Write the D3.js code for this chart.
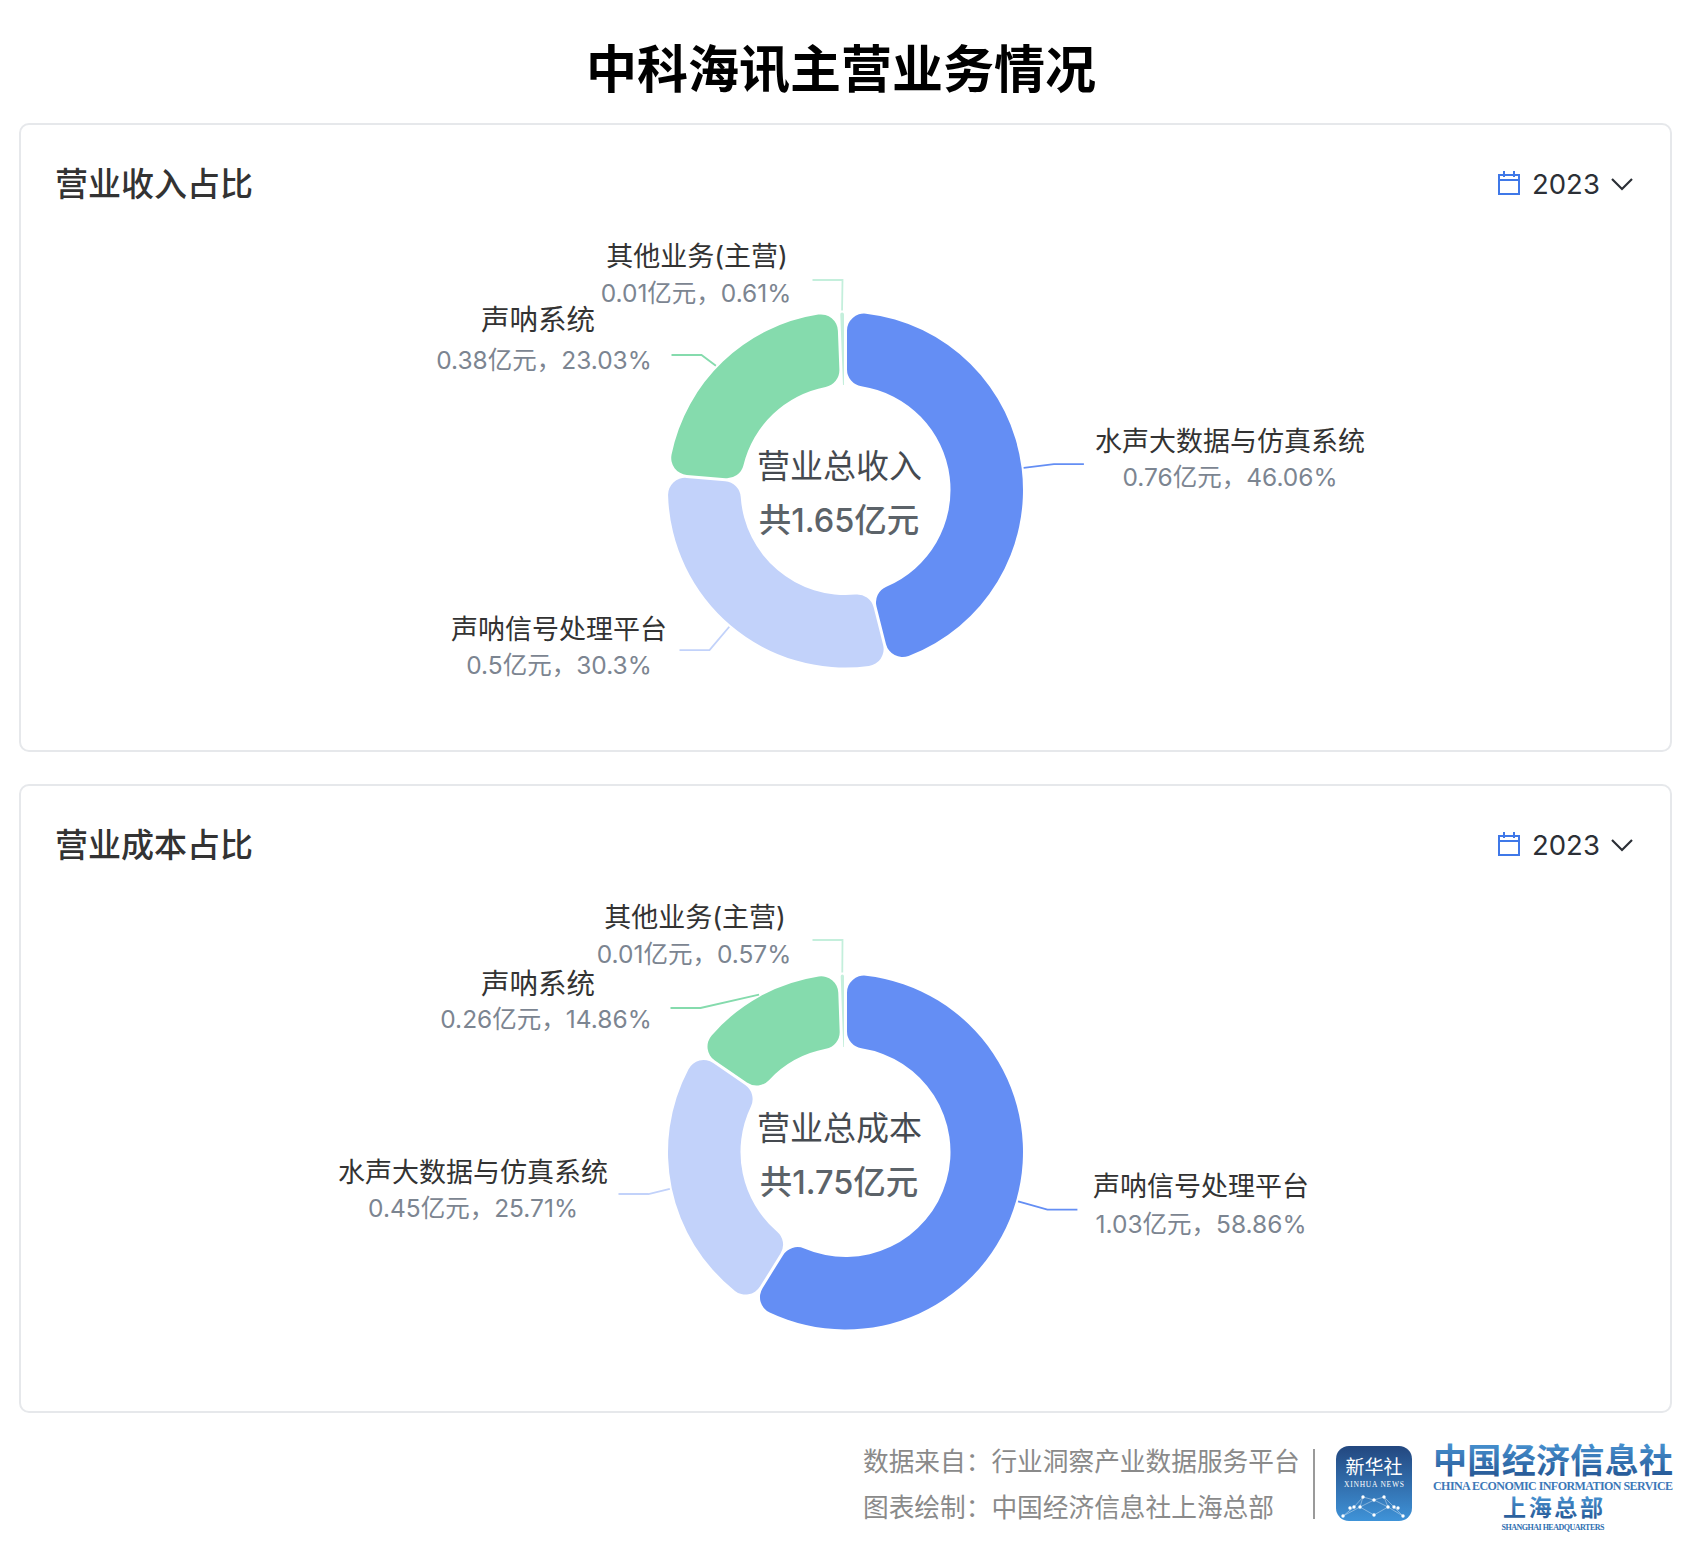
<!DOCTYPE html>
<html><head><meta charset="utf-8">
<script src="https://cdn.jsdelivr.net/npm/d3@7/dist/d3.min.js"></script>
<style>html,body{margin:0;padding:0;background:#fff}svg{display:block}
text{font-family:Inter,"Noto Sans CJK SC","Noto Sans",sans-serif}</style>
</head><body><svg id="c" width="1688" height="1558"></svg>
<script>
const title = "中科海讯主营业务情况";
const revenueCardTitle = "营业收入占比";
const costCardTitle = "营业成本占比";
const yearLabel = "2023";
const revenueNames = ["水声大数据与仿真系统","声呐信号处理平台","声呐系统","其他业务(主营)"];
const revenueAmounts = [0.76,0.5,0.38,0.01];
const revenuePercents = [46.06,30.3,23.03,0.61];
const costNames = ["声呐信号处理平台","水声大数据与仿真系统","声呐系统","其他业务(主营)"];
const costAmounts = [1.03,0.45,0.26,0.01];
const costPercents = [58.86,25.71,14.86,0.57];
const sliceColors = ["#648ef4","#c2d2fa","#85dbad","#c4efdc"];
const footerLines = ["数据来自：行业洞察产业数据服务平台","图表绘制：中国经济信息社上海总部"];

const svg = d3.select("#c");
const CX=845.5, R=177.5, r0=105;
svg.append("text").attr("x",841).attr("y",69).attr("text-anchor","middle").attr("dominant-baseline","central")
  .attr("font-size",51).attr("font-weight",700).attr("fill","#000").text(title);

const pie=d3.pie().sort(null).value(d=>d);
const arc=d3.arc().innerRadius(r0).outerRadius(R).cornerRadius(17).padAngle(0.03).padRadius(100);
const fmt=(a,p)=>`${a}亿元，${p}%`;

function card(o){
  const g=svg.append("g");
  g.append("rect").attr("x",20).attr("y",o.top).attr("width",1651).attr("height",627).attr("rx",9)
    .attr("fill","#fff").attr("stroke","#e6e8eb").attr("stroke-width",2);
  g.append("text").attr("x",55).attr("y",o.top+60).attr("dominant-baseline","central")
    .attr("font-size",33).attr("font-weight",500).attr("fill","#333").text(o.title);
  const ic=g.append("g").attr("fill","none").attr("stroke","#3f78e8").attr("stroke-width",2);
  const t=o.top;
  ic.append("rect").attr("x",1499).attr("y",t+51).attr("width",20).attr("height",19);
  ic.append("line").attr("x1",1499).attr("x2",1519).attr("y1",t+56).attr("y2",t+56);
  ic.append("line").attr("x1",1504).attr("x2",1504).attr("y1",t+47).attr("y2",t+53);
  ic.append("line").attr("x1",1514).attr("x2",1514).attr("y1",t+47).attr("y2",t+53);
  g.append("text").attr("x",1532).attr("y",t+60).attr("dominant-baseline","central")
    .attr("font-size",27.5).attr("fill","#2b2f36").attr("font-weight",400).text(yearLabel);
  g.append("path").attr("d",d3.line()([[1612,t+55],[1622,t+65],[1632,t+55]]))
    .attr("fill","none").attr("stroke","#2b2f36").attr("stroke-width",2.2);

  const cy=o.cy;
  const pg=g.append("g").attr("transform",`translate(${CX},${cy})`);
  const slices=pie(o.percents);
  pg.selectAll("path.s").data(slices).join("path").attr("class","s")
    .attr("d",arc).attr("fill",(d,i)=>sliceColors[i]);
  const ln=d3.line();
  slices.forEach((d,i)=>{
    const l=o.leaders[i];
    const a=(d.startAngle+d.endAngle)/2+(l.da||0);
    const a2=(d.startAngle+d.endAngle)/2;
    const p1=[(R+2)*Math.sin(a),-(R+2)*Math.cos(a)];
    const p2=[l.ex!=null?l.ex:210*Math.sin(a2),l.ey!=null?l.ey:-210*Math.cos(a2)];
    const dir=Math.sin(a2)>=0?1:-1;
    const p3=[p2[0]+dir*30,p2[1]];
    pg.append("path").attr("d",ln([p1,p2,p3])).attr("fill","none")
      .attr("stroke",sliceColors[i]).attr("stroke-width",1.8);
  });
  o.labels.forEach((L,i)=>{
    g.append("text").attr("x",L.nx).attr("y",L.ny).attr("text-anchor","middle").attr("dominant-baseline","central")
      .attr("font-size",L.fs||27).attr("fill","#333").text(o.names[i]);
    g.append("text").attr("x",L.vx).attr("y",L.vy).attr("text-anchor","middle").attr("dominant-baseline","central")
      .attr("font-size",24.5).attr("fill","#7c8591").text(fmt(o.amounts[i],o.percents[i]));
  });
  g.append("text").attr("x",839.5).attr("y",cy-24).attr("text-anchor","middle").attr("dominant-baseline","central")
    .attr("font-size",33).attr("fill","#454a50").text(o.centerTop);
  g.append("text").attr("x",839).attr("y",cy+30).attr("text-anchor","middle").attr("dominant-baseline","central")
    .attr("font-size",32.5).attr("font-weight",500).attr("fill","#5c6369").text(o.centerBottom);
}

card({top:124,cy:490,title:revenueCardTitle,names:revenueNames,amounts:revenueAmounts,percents:revenuePercents,
  centerTop:"营业总收入",centerBottom:"共1.65亿元",
  leaders:[{},{},{da:-0.045,ex:-144,ey:-135},{ex:-3,ey:-210}],
  labels:[{nx:1230,ny:441,vx:1230,vy:477},{nx:559,ny:629,vx:559,vy:665},{nx:538,ny:319,vx:544,vy:360,fs:28.5},{nx:697,ny:256,vx:696,vy:293}]});
card({top:785,cy:1152,title:costCardTitle,names:costNames,amounts:costAmounts,percents:costPercents,
  centerTop:"营业总成本",centerBottom:"共1.75亿元",
  leaders:[{},{ex:-197,ey:42},{ex:-145,ey:-144},{ex:-3,ey:-212}],
  labels:[{nx:1201,ny:1186,vx:1201,vy:1224},{nx:473,ny:1172,vx:473,vy:1208},{nx:538,ny:983,vx:546,vy:1019,fs:28.5},{nx:695,ny:917,vx:694,vy:954}]});

footerLines.forEach((s,i)=>svg.append("text").attr("x",863).attr("y",[1461,1507][i]).attr("dominant-baseline","central")
  .attr("font-size",25.7).attr("fill","#8a8a8a").text(s));
svg.append("line").attr("x1",1314).attr("x2",1314).attr("y1",1449).attr("y2",1519).attr("stroke","#9a9a9a").attr("stroke-width",2);

const defs=svg.append("defs");
const lg=defs.append("linearGradient").attr("id","lg").attr("x1",0).attr("y1",0).attr("x2",0).attr("y2",1);
lg.append("stop").attr("offset",0).attr("stop-color","#23477f");
lg.append("stop").attr("offset",1).attr("stop-color","#3f93d8");
const tg=defs.append("linearGradient").attr("id","tg").attr("x1",0).attr("y1",0).attr("x2",0).attr("y2",1);
tg.append("stop").attr("offset",0).attr("stop-color","#4a97d6");
tg.append("stop").attr("offset",1).attr("stop-color","#23528f");
svg.append("rect").attr("x",1336).attr("y",1446).attr("width",76).attr("height",75).attr("rx",13).attr("fill","url(#lg)");
svg.append("text").attr("x",1374).attr("y",1467).attr("text-anchor","middle").attr("dominant-baseline","central")
  .attr("font-size",19).attr("fill","#fff").text("新华社");
svg.append("text").attr("x",1374).attr("y",1484).attr("text-anchor","middle").attr("dominant-baseline","central")
  .attr("font-size",7.5).attr("fill","#fff").attr("textLength",60).style("font-family","'Liberation Serif'").text("XINHUA NEWS");
const nodes=[[1363,1497],[1374,1500],[1384,1497],[1354,1507],[1360,1507],[1388,1507],[1394,1507],[1343,1516],[1374,1515],[1403,1516],[1350,1508],[1398,1508]];
const links=[[0,1],[1,2],[0,4],[2,5],[4,8],[5,8],[3,7],[6,9],[4,7],[5,9],[0,3],[2,6],[1,4],[1,5]];
svg.append("g").selectAll("line").data(links).join("line")
  .attr("x1",d=>nodes[d[0]][0]).attr("y1",d=>nodes[d[0]][1]).attr("x2",d=>nodes[d[1]][0]).attr("y2",d=>nodes[d[1]][1])
  .attr("stroke","#fff").attr("stroke-opacity",.55).attr("stroke-width",.7);
svg.append("g").selectAll("circle").data(nodes).join("circle").attr("cx",d=>d[0]).attr("cy",d=>d[1]).attr("r",1.7).attr("fill","#fff");

svg.append("text").attr("x",1553).attr("y",1460).attr("text-anchor","middle").attr("dominant-baseline","central")
  .attr("font-size",34).attr("font-weight",700).attr("fill","url(#tg)").attr("textLength",240).text("中国经济信息社");
svg.append("text").attr("x",1553).attr("y",1486).attr("text-anchor","middle").attr("dominant-baseline","central")
  .attr("font-size",12).attr("font-weight",700).attr("fill","#3c78b8").attr("textLength",240).style("font-family","'Liberation Serif'").text("CHINA ECONOMIC INFORMATION SERVICE");
svg.append("text").attr("x",1553).attr("y",1508).attr("text-anchor","middle").attr("dominant-baseline","central")
  .attr("font-size",23).attr("font-weight",700).attr("fill","url(#tg)").attr("textLength",100).text("上海总部");
svg.append("text").attr("x",1553).attr("y",1527).attr("text-anchor","middle").attr("dominant-baseline","central")
  .attr("font-size",8).attr("font-weight",700).attr("fill","#2f6fb0").attr("textLength",103).style("font-family","'Liberation Serif'").text("SHANGHAI HEADQUARTERS");
</script></body></html>
